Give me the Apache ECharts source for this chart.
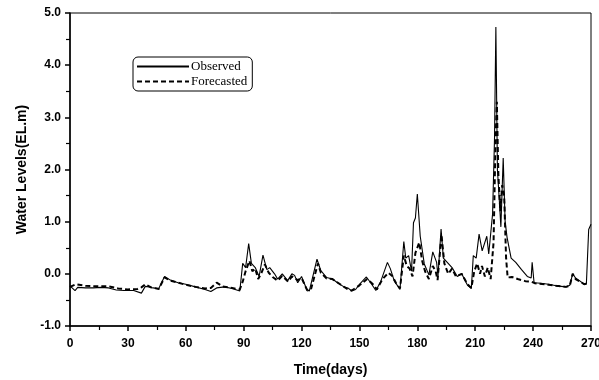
<!DOCTYPE html>
<html>
<head>
<meta charset="utf-8">
<script src="https://cdn.jsdelivr.net/npm/echarts@6/dist/echarts.min.js"></script>
<style>
  html, body { margin: 0; padding: 0; background: #fff; }
  #main { width: 599px; height: 380px; }
</style>
</head>
<body>
<div id="main"></div>
<script>
// observed water levels (day, EL.m)
var obsDays = [0, 2.6, 4, 8, 12, 16, 20, 24, 28, 33, 37, 39, 41, 43, 46, 49, 52, 56, 60, 65,
    70, 73, 76, 80, 84, 88, 89.5, 91, 92.6, 94, 96, 98, 100, 102, 103.5, 106, 107.6, 110, 112.8, 115,
    116.4, 118, 120, 122.6, 124, 128, 130, 133, 136, 139, 142, 144, 146, 148, 150, 153.6, 156, 158.5, 161, 164.5,
    166, 168, 171, 173, 174, 175.5, 177, 178, 179, 180, 181.5, 183.6, 186, 188, 190, 190.7, 192.3, 193.5, 195.5, 198,
    200.7, 203, 206, 208, 209, 210.5, 212, 213.6, 216, 217, 219, 220, 220.7, 221.5, 222.5, 223.3, 224.5, 225.5, 226.5, 228.6,
    231, 234, 237, 239, 239.5, 240.5, 244, 248, 252, 257, 259, 260.5, 262, 264, 266.5, 267.6, 268.8, 270];
var obsVals = [-0.23, -0.32, -0.26, -0.27, -0.27, -0.26, -0.27, -0.31, -0.32, -0.32, -0.37, -0.24, -0.25, -0.27, -0.28, -0.05, -0.12, -0.17, -0.2, -0.25,
    -0.3, -0.34, -0.27, -0.25, -0.28, -0.33, 0.2, 0.12, 0.58, 0.2, 0.12, -0.05, 0.36, 0.08, 0.12, 0.0, -0.1, 0.0, -0.13, 0.0,
    -0.03, -0.17, -0.05, -0.29, -0.33, 0.28, 0.06, -0.07, -0.1, -0.18, -0.25, -0.27, -0.33, -0.3, -0.2, -0.06, -0.18, -0.32, -0.15, 0.22,
    0.1, -0.13, -0.3, 0.62, 0.3, 0.35, 0.05, 0.98, 1.07, 1.53, 0.72, 0.19, -0.02, 0.42, 0.22, -0.05, 0.86, 0.3, 0.22, 0.12,
    -0.05, 0.0, -0.22, -0.28, 0.35, 0.3, 0.76, 0.44, 0.72, 0.38, 1.15, 2.6, 4.73, 2.0, 1.4, 0.9, 2.22, 1.0, 0.7, 0.3,
    0.22, 0.08, -0.05, -0.08, 0.22, -0.17, -0.18, -0.2, -0.23, -0.25, -0.22, 0.0, -0.08, -0.13, -0.2, -0.2, 0.85, 0.95];

// forecasted water levels (day, EL.m)
var fcDays = [0, 3, 8, 14, 20, 25, 30, 35, 37, 39, 42, 46, 49, 52, 56, 60, 65, 70, 73, 76,
    79, 84, 88, 89.5, 91, 93, 94.5, 96, 97.5, 99, 101, 103, 105, 107.6, 110, 113, 115, 118, 120, 123,
    125, 128.5, 130, 133, 136, 140, 144, 146, 150, 154, 157, 159, 162, 165, 167, 169, 171, 173, 174.5, 176,
    177.5, 179, 181, 182.5, 184, 186, 188, 189.5, 190.5, 192.5, 194, 196, 198, 200, 203, 206, 208, 209.5, 211, 212.5,
    213.5, 215, 216.5, 218, 219.5, 220.5, 221.2, 222, 223, 224, 225, 226, 226.8, 229, 232, 236, 239, 241, 248, 252,
    257, 259, 260.5, 262, 264, 266.5, 268];
var fcVals = [-0.25, -0.2, -0.23, -0.24, -0.24, -0.28, -0.3, -0.29, -0.26, -0.2, -0.26, -0.29, -0.07, -0.13, -0.17, -0.21, -0.25, -0.28, -0.27, -0.17,
    -0.24, -0.27, -0.3, -0.15, 0.05, 0.25, 0.05, 0.1, -0.1, 0.0, 0.18, 0.02, -0.06, -0.13, -0.04, -0.15, -0.05, -0.12, -0.08, -0.32,
    -0.28, 0.2, 0.02, -0.09, -0.1, -0.2, -0.3, -0.32, -0.22, -0.1, -0.2, -0.3, -0.1, 0.02, -0.04, -0.18, -0.28, 0.35, 0.15, 0.1,
    -0.05, 0.4, 0.6, 0.25, 0.05, -0.1, 0.15, 0.05, -0.12, 0.75, 0.2, 0.0, 0.1, -0.05, 0.0, -0.2, -0.27, 0.05, 0.2, 0.0,
    0.15, -0.05, 0.12, -0.1, 0.6, 2.5, 3.3, 1.9, 1.2, 1.7, 1.5, 0.3, -0.07, -0.06, -0.1, -0.14, -0.15, -0.18, -0.21, -0.23,
    -0.25, -0.23, 0.0, -0.1, -0.14, -0.2, -0.18];

function pairs(xs, ys) {
    var out = [];
    for (var i = 0; i < xs.length; i++) out.push([xs[i], ys[i]]);
    return out;
}

var myChart = echarts.init(document.getElementById('main'));
var tickFont = { color: '#000', fontFamily: 'Liberation Sans', fontWeight: 'bold', fontSize: 12 };

var option = {
    animation: false,
    backgroundColor: '#fff',
    grid: {
        left: 70, right: 8, top: 13, bottom: 54,
        outerBoundsMode: 'none',
        show: true, borderColor: '#000', borderWidth: 1
    },
    legend: {
        orient: 'vertical',
        left: 133, top: 57,
        itemWidth: 52, itemHeight: 10, itemGap: 2,
        padding: [3, 5, 3, 3],
        borderColor: '#000', borderWidth: 1, borderRadius: 5,
        itemStyle: { opacity: 0 },
        textStyle: { fontFamily: 'Liberation Serif', fontSize: 13, color: '#000', padding: [0, 0, 0, -3] },
        data: ['Observed', 'Forecasted']
    },
    xAxis: {
        type: 'value',
        min: 0, max: 270, interval: 30,
        name: 'Time(days)',
        nameLocation: 'middle',
        nameGap: 37,
        nameTextStyle: { color: '#000', fontFamily: 'Liberation Sans', fontWeight: 'bold', fontSize: 14 },
        axisLine: { onZero: false, lineStyle: { color: '#000', width: 1.5 } },
        axisTick: { inside: false, length: 5, lineStyle: { color: '#000', width: 1.5 } },
        minorTick: { show: true, splitNumber: 2, length: 4, lineStyle: { color: '#000', width: 1.2 } },
        axisLabel: Object.assign({ margin: 12 }, tickFont),
        splitLine: { show: false }
    },
    yAxis: {
        type: 'value',
        min: -1, max: 5, interval: 1,
        name: 'Water Levels(EL.m)',
        nameLocation: 'middle',
        nameGap: 40,
        nameTextStyle: { color: '#000', fontFamily: 'Liberation Sans', fontWeight: 'bold', fontSize: 14 },
        axisLine: { onZero: false, lineStyle: { color: '#000', width: 1.5 } },
        axisTick: { inside: false, length: 5, lineStyle: { color: '#000', width: 1.5 } },
        minorTick: { show: true, splitNumber: 2, length: 4, lineStyle: { color: '#000', width: 1.2 } },
        axisLabel: Object.assign({ margin: 9, formatter: function (v) { return v.toFixed(1); } }, tickFont),
        splitLine: { show: false }
    },
    series: [
        {
            name: 'Observed',
            type: 'line',
            symbol: 'none',
            color: '#000',
            lineStyle: { color: '#000', width: 1.1 },
            data: pairs(obsDays, obsVals),
            z: 3
        },
        {
            name: 'Forecasted',
            type: 'line',
            symbol: 'none',
            color: '#000',
            lineStyle: { color: '#000', width: 2, type: [5, 3] },
            data: pairs(fcDays, fcVals),
            z: 2
        }
    ]
};
myChart.setOption(option);
</script>
</body>
</html>
